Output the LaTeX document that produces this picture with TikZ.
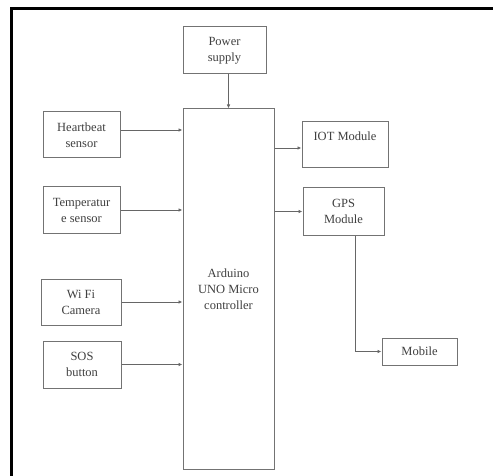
\documentclass[tikz,border=0pt]{standalone}
\usepackage{fontspec}
\setmainfont{Liberation Serif}
\usetikzlibrary{arrows.meta}
\begin{document}
\begin{tikzpicture}[x=1pt,y=-1pt,
  txt/.style={inner sep=0pt,align=center,text=black!75,font=\fontsize{12.5}{16}\selectfont},
  box/.style={txt,draw=black!55,line width=1pt},
  arr/.style={draw=black!60,line width=0.9pt,-{Latex[length=4pt,width=3.5pt]}},
  frame/.style={draw=black,line width=3pt}]
\useasboundingbox (0,0) rectangle (493,476);
\fill[white] (0,0) rectangle (493,476);
\draw[frame] (11.5,478) -- (11.5,8.5) -- (495,8.5);
% boxes
\node[box,minimum width=83,minimum height=47] (pw) at (224.5,50.5) {Power\\supply};
\node[box,minimum width=91,minimum height=360] (ard) at (228.5,289) {};
\node[txt] (ardtxt) at (228.5,289) {Arduino\\UNO Micro\\controller};
\node[box,minimum width=77,minimum height=46] (hb) at (81.5,135) {Heartbeat\\sensor};
\node[box,minimum width=77,minimum height=46] (tp) at (81.5,210) {Temperatur\\e sensor};
\node[box,minimum width=80,minimum height=46] (wf) at (81,302) {Wi Fi\\Camera};
\node[box,minimum width=78,minimum height=47] (sos) at (82,364.5) {SOS\\button};
\node[box,minimum width=86,minimum height=46] (iot) at (345,145) {IOT Module\\[-4pt]\strut};
\node[box,minimum width=81,minimum height=47] (gps) at (343.5,211.5) {GPS\\Module};
\node[box,minimum width=75,minimum height=27] (mob) at (419.5,351.5) {Mobile};
% connectors
\draw[arr] (pw.south -| ard.north) -- (ard.north);
\draw[arr] ([yshift=5pt]hb.east) -- ([yshift=5pt]hb.east -| ard.west);
\draw[arr] (tp.east) -- (tp.east -| ard.west);
\draw[arr] (wf.east) -- (wf.east -| ard.west);
\draw[arr] (sos.east) -- (sos.east -| ard.west);
\draw[arr] ([yshift=-3pt]iot.west -| ard.east) -- ([yshift=-3pt]iot.west);
\draw[arr] (gps.west -| ard.east) -- (gps.west);
\coordinate (gpsout) at ([xshift=11.5pt]gps.south);
\draw[arr] (gpsout) |- (mob.west);
\end{tikzpicture}
\end{document}
